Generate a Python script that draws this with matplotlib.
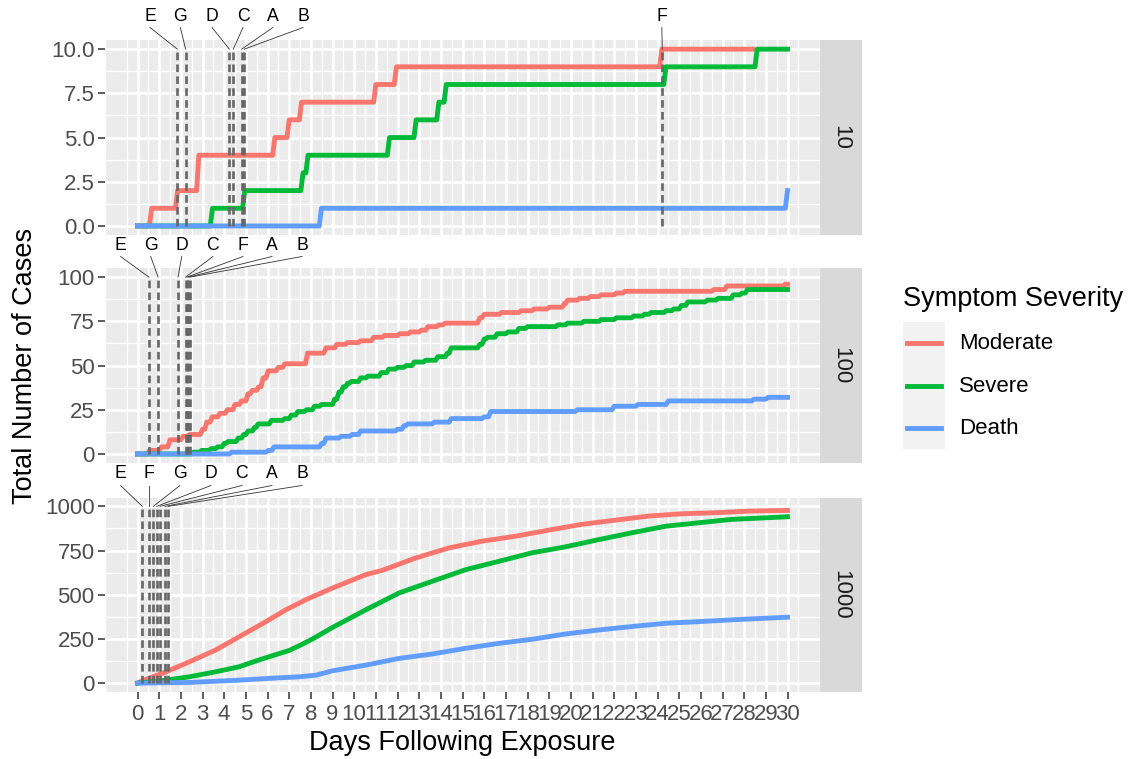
import matplotlib
matplotlib.use('Agg')
import matplotlib.pyplot as plt
import matplotlib.transforms as mtransforms
from matplotlib.lines import Line2D
import numpy as np

plt.rcParams['font.family'] = ['Liberation Sans', 'DejaVu Sans']

# ---------------- data ----------------
series_names = ['Moderate', 'Severe', 'Death']
series_colors = ['#F8766D', '#00BA38', '#619CFF']

# Panel "10" (step data: event day, cumulative count)
p10_mod_t = [0, 0.55, 1.75, 2.73, 6.24, 6.9, 7.47, 10.9, 11.85, 24.1, 28.4]
p10_mod_y = [0, 1, 2, 4, 5, 6, 7, 8, 9, 10, 10]
p10_sev_t = [0, 3.36, 4.85, 7.54, 7.77, 11.53, 12.76, 13.81, 14.15, 24.29, 28.5, 30]
p10_sev_y = [0, 1, 2, 3, 4, 5, 6, 7, 8, 9, 10, 10]
p10_dea_t = [0, 8.39, 29.9, 30]
p10_dea_y = [0, 1, 2, 2]

# Panel "100"
p100_mod_t = [0, 0.45, 1.0, 1.4, 2.0, 2.3, 2.9, 3.1, 3.35, 3.7, 4.05, 4.4, 4.7, 5.0, 5.2,
              5.5, 5.7, 5.93, 6.4, 6.7, 7.75, 8.6, 9.1, 9.6, 10.2, 10.8, 11.3, 12.0, 12.5,
              13.0, 13.3, 13.8, 14.1, 15.7, 15.9, 16.7, 17.6, 18.2, 18.9, 19.6, 19.75, 20.3,
              20.8, 21.3, 22.0, 22.4, 26.5, 27.1, 29.8, 30]
p100_mod_y = [0, 2, 4, 8, 10, 11, 14, 18, 21, 23, 25, 28, 30, 34, 36,
              38, 43, 47, 49, 51, 57, 60, 62, 63, 64, 66, 67, 68, 69,
              70, 72, 73, 74, 77, 79, 80, 81, 82, 83, 85, 87, 88,
              89, 90, 91, 92, 93, 95, 96, 96]
p100_sev_t = [0, 2.5, 2.86, 3.3, 3.6, 3.9, 4.08, 4.55, 4.8, 5.0, 5.3, 5.47, 6.08, 6.7, 7.0,
              7.3, 7.7, 8.07, 8.4, 9.0, 9.2, 9.4, 9.6, 9.77, 10.2, 10.54, 11.15, 11.5, 11.9,
              12.3, 12.67, 13.2, 13.76, 14.2, 14.38, 15.7, 15.9, 16.07, 16.5, 17.0, 17.5,
              17.9, 19.3, 19.75, 20.5, 21.3, 22.0, 22.8, 23.3, 23.6, 24.3, 24.65, 25.0, 25.3,
              26.2, 26.7, 27.4, 27.8, 28.05, 30]
p100_sev_y = [0, 1, 2, 3, 4, 6, 7, 9, 11, 13, 15, 17, 19, 20, 22,
              24, 25, 27, 28, 31, 35, 38, 40, 41, 43, 44, 46, 48, 49,
              50, 52, 53, 55, 57, 60, 62, 65, 66, 68, 69, 71,
              72, 73, 74, 75, 76, 77, 78, 79, 80, 81, 82, 84, 86,
              87, 88, 90, 91, 93, 93]
p100_dea_t = [0, 4.24, 5.93, 6.2, 8.4, 8.6, 9.3, 9.8, 10.2, 11.9, 12.2, 12.38, 13.6, 14.38,
              15.9, 16.2, 20.2, 21.9, 23.0, 24.4, 28.35, 29.0, 30]
p100_dea_y = [0, 1, 2, 4, 6, 9, 10, 11, 13, 14, 16, 17, 18, 20,
              21, 24, 25, 27, 28, 30, 31, 32, 32]

# Panel "1000" (dense cumulative curves)
p1000_mod_t = [0, 0.25, 1.32, 2.4, 3.6, 4.7, 5.93, 6.85, 7.47, 7.77, 9.0, 10.54, 11.3, 12.84,
               14.38, 15.9, 17.45, 19.0, 20.5, 22.06, 23.6, 25.1, 26.7, 28.2, 30]
p1000_mod_y = [0, 15, 64, 121, 187, 263, 348, 415, 453, 472, 538, 614, 638, 708,
               765, 803, 831, 866, 898, 922, 945, 958, 964, 973, 977]
p1000_sev_t = [0, 1.32, 2.4, 3.6, 4.7, 5.6, 7.0, 7.47, 8.08, 9.0, 10.54, 12.07, 13.6, 15.15,
               16.68, 18.2, 19.75, 21.3, 22.8, 24.4, 25.9, 27.4, 30]
p1000_sev_y = [0, 17, 36, 64, 93, 131, 185, 212, 250, 315, 415, 510, 576, 642,
               689, 737, 771, 812, 850, 888, 907, 926, 941]
p1000_dea_t = [0, 2.4, 4.7, 6.5, 7.47, 8.23, 9.0, 10.54, 12.07, 13.6, 15.15, 16.68, 18.2,
               19.75, 21.3, 22.8, 24.4, 25.9, 27.4, 30]
p1000_dea_y = [0, 4, 17, 30, 36, 45, 70, 102, 140, 165, 197, 225, 248,
               278, 301, 320, 339, 348, 358, 373]

# Marker (vertical line) names and days per panel
p10_mark_names = ['E', 'G', 'D', 'C', 'A', 'B', 'F']
p10_mark_days = [1.84, 2.22, 4.24, 4.42, 4.81, 4.93, 24.22]
p100_mark_names = ['E', 'G', 'D', 'C', 'F', 'A', 'B']
p100_mark_days = [0.53, 0.95, 1.87, 2.22, 2.28, 2.34, 2.42]
p1000_mark_names = ['E', 'F', 'G', 'D', 'C', 'A', 'B']
p1000_mark_days = [0.22, 0.54, 0.73, 0.89, 1.04, 1.27, 1.42]

panel_labels = ['10', '100', '1000']
panel_ymax = [10, 100, 1000]
p10_yticks = [0, 2.5, 5, 7.5, 10]
p10_yticklabels = ['0.0', '2.5', '5.0', '7.5', '10.0']
p100_yticks = [0, 25, 50, 75, 100]
p100_yticklabels = ['0', '25', '50', '75', '100']
p1000_yticks = [0, 250, 500, 750, 1000]
p1000_yticklabels = ['0', '250', '500', '750', '1000']
x_days = list(range(0, 31))

# ---------------- layout (pixels) ----------------
W, H = 1128, 759
fig = plt.figure(figsize=(W / 100, H / 100), dpi=100)
fig.patch.set_facecolor('white')

PX0, PX1 = 105, 820
SX1 = 862
panel_tops = [40.3, 268.3, 497.5]
PH = 194.5
RAMP = 0.1  # rise duration of each step in days (line drawn through sampled times)

# label placement (layout, day units)
p10_label_x = [0.58, 1.98, 3.44, 4.87, 6.25, 7.64, 24.2]
p100_label_x = [-0.78, 0.61, 2.04, 3.48, 4.87, 6.21, 7.59]
p1000_label_x = [-0.78, 0.54, 1.96, 3.39, 4.82, 6.21, 7.59]

panels = [
    dict(series=[(p10_mod_t, p10_mod_y), (p10_sev_t, p10_sev_y), (p10_dea_t, p10_dea_y)],
         step=True, yt=p10_yticks, ytl=p10_yticklabels,
         mn=p10_mark_names, md=p10_mark_days, lx=p10_label_x, lab_y=16.3, seg_y=27.5),
    dict(series=[(p100_mod_t, p100_mod_y), (p100_sev_t, p100_sev_y), (p100_dea_t, p100_dea_y)],
         step=True, yt=p100_yticks, ytl=p100_yticklabels,
         mn=p100_mark_names, md=p100_mark_days, lx=p100_label_x, lab_y=245, seg_y=256.5),
    dict(series=[(p1000_mod_t, p1000_mod_y), (p1000_sev_t, p1000_sev_y), (p1000_dea_t, p1000_dea_y)],
         step=False, yt=p1000_yticks, ytl=p1000_yticklabels,
         mn=p1000_mark_names, md=p1000_mark_days, lx=p1000_label_x, lab_y=474, seg_y=485.5),
]

TICK_FS = 16
TITLE_FS = 19.5


def ramp_steps(t, y):
    xs, ys = [t[0]], [y[0]]
    for k in range(1, len(t)):
        if y[k] != y[k - 1]:
            xs += [t[k], min(t[k] + RAMP, t[-1])]
            ys += [y[k - 1], y[k]]
        else:
            xs.append(t[k])
            ys.append(y[k])
    return xs, ys


for i, p in enumerate(panels):
    top = panel_tops[i]
    ax = fig.add_axes([PX0 / W, 1 - (top + PH) / H, (PX1 - PX0) / W, PH / H])
    ax.set_facecolor('#EBEBEB')
    for s in ax.spines.values():
        s.set_visible(False)
    ymax = panel_ymax[i]
    lo, hi = -0.05 * ymax, 1.05 * ymax
    ax.set_xlim(-1.5, 31.5)
    ax.set_ylim(lo, hi)

    ax.set_xticks(x_days)
    ax.set_xticks(np.arange(-1.5, 31.6, 1.0), minor=True)
    ax.set_yticks(p['yt'])
    ax.set_yticklabels(p['ytl'])
    ystep = p['yt'][1] - p['yt'][0]
    ax.set_yticks([v + ystep / 2 for v in p['yt'][:-1]], minor=True)
    ax.set_axisbelow(True)
    ax.grid(which='major', color='white', lw=1.9)
    ax.grid(which='minor', color='white', lw=0.95)
    ax.tick_params(axis='both', which='minor', length=0)
    ax.tick_params(axis='y', which='major', length=5, width=1.1, color='#333333',
                   labelsize=TICK_FS, labelcolor='#4D4D4D', pad=2.5)
    if i == 2:
        ax.set_xticklabels([str(d) for d in x_days])
        ax.tick_params(axis='x', which='major', length=5, width=1.1, color='#333333',
                       labelsize=TICK_FS, labelcolor='#4D4D4D', pad=3.5)
    else:
        ax.tick_params(axis='x', which='major', length=0, labelbottom=False)

    for (t, y), c in zip(p['series'], series_colors):
        if p['step']:
            xs, ys = ramp_steps(t, y)
            ax.plot(xs, ys, color=c, lw=3.5, zorder=3, solid_joinstyle='round')
        else:
            ax.plot(t, y, color=c, lw=3.5, zorder=3, solid_joinstyle='round')

    trans = mtransforms.blended_transform_factory(ax.transData, ax.transAxes)
    lab_frac = 1 + (top - p['lab_y']) / PH
    seg_frac = 1 + (top - p['seg_y']) / PH
    top_frac = (ymax - lo) / (hi - lo)
    for name, d, lx in zip(p['mn'], p['md'], p['lx']):
        ax.plot([d, d], [0, ymax], color='#666666', lw=1.9, ls=(0, (2.9, 1.6)), zorder=5)
        ax.text(lx, lab_frac, name, transform=trans, ha='center', va='center',
                fontsize=12.7, color='black', clip_on=False)
        ax.plot([lx, d], [seg_frac, top_frac], transform=trans, color='#333333', lw=0.6,
                clip_on=False, zorder=6)

    # facet strip
    sax = fig.add_axes([PX1 / W, 1 - (top + PH) / H, (SX1 - PX1) / W, PH / H])
    sax.set_facecolor('#D9D9D9')
    for s in sax.spines.values():
        s.set_visible(False)
    sax.set_xticks([])
    sax.set_yticks([])
    sax.text(0.5, 0.5, panel_labels[i], rotation=270, ha='center', va='center',
             fontsize=TICK_FS, color='#1A1A1A', transform=sax.transAxes)

# axis titles
fig.text(25 / W, 1 - 366 / H, 'Total Number of Cases', rotation=90, ha='center', va='center',
         fontsize=TITLE_FS, color='black')
fig.text((PX0 + PX1) / 2 / W, 1 - 743 / H, 'Days Following Exposure', ha='center', va='center',
         fontsize=TITLE_FS, color='black')

# legend
fig.text(903 / W, 1 - 299 / H, 'Symptom Severity', ha='left', va='center',
         fontsize=TITLE_FS, color='black')
kax = fig.add_axes([902.7 / W, 1 - 449.3 / H, 42.3 / W, 127.6 / H])
kax.set_facecolor('#F2F2F2')
for s in kax.spines.values():
    s.set_visible(False)
kax.set_xticks([])
kax.set_yticks([])
key_y = [342.7, 385.7, 427.7]
for name, c, ky in zip(series_names, series_colors, key_y):
    fig.add_artist(Line2D([906.7 / W, 941 / W], [1 - ky / H, 1 - ky / H], color=c, lw=3.5,
                          transform=fig.transFigure))
    fig.text(959.3 / W, 1 - (ky + 1) / H, name, ha='left', va='center',
             fontsize=TICK_FS, color='black')

fig.savefig('out.png', dpi=100)
